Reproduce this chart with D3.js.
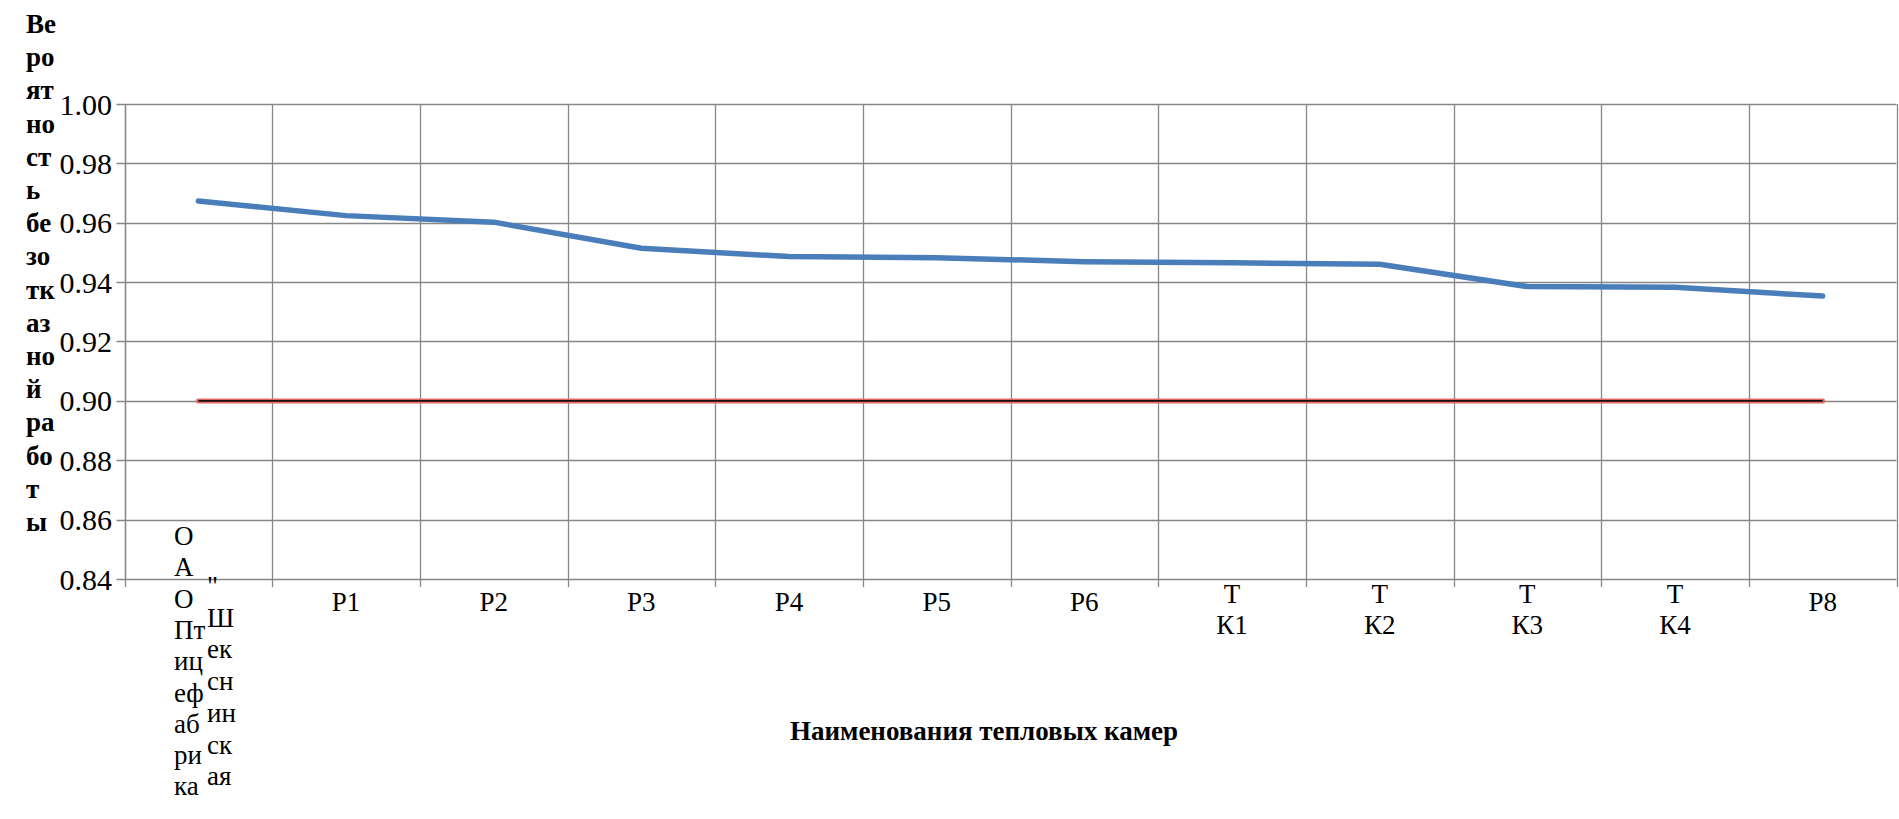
<!DOCTYPE html>
<html>
<head>
<meta charset="utf-8">
<script src="https://cdn.jsdelivr.net/npm/d3@7"></script>
<style>
  html, body { margin: 0; padding: 0; background: #fff; }
  svg { display: block; }
  svg text { font-family: "Times New Roman", Times, Tinos, "Liberation Serif", "DejaVu Serif", "Noto Serif", serif; }
</style>
</head>
<body>
<svg id="chart" width="1899" height="819"></svg>
<script>
// ---- data ----
const categories = ['ОАО "Птицефабрика "Шекснинская"', "Р1", "Р2", "Р3", "Р4", "Р5", "Р6", "ТК1", "ТК2", "ТК3", "ТК4", "Р8"];
const reliability = [0.9673, 0.9624, 0.9602, 0.9514, 0.9486, 0.9482, 0.9469, 0.9465, 0.9460, 0.9385, 0.9383, 0.9353];
const threshold = [0.90, 0.90, 0.90, 0.90, 0.90, 0.90, 0.90, 0.90, 0.90, 0.90, 0.90, 0.90];
const yTicks = [0.84, 0.86, 0.88, 0.90, 0.92, 0.94, 0.96, 0.98, 1.00];
// how the labels wrap in the picture
const firstLabelLeft = ["О", "А", "О", "Пт", "иц", "еф", "аб", "ри", "ка"];
const firstLabelRight = ['"', "Ш", "ек", "сн", "ин", "ск", "ая"];
const labelLines = [null, ["Р1"], ["Р2"], ["Р3"], ["Р4"], ["Р5"], ["Р6"], ["Т", "К1"], ["Т", "К2"], ["Т", "К3"], ["Т", "К4"], ["Р8"]];
const yTitleLines = ["Ве", "ро", "ят", "но", "ст", "ь", "бе", "зо", "тк", "аз", "но", "й", "ра", "бо", "т", "ы"];
const xTitle = "Наименования тепловых камер";

// ---- layout ----
const L = 124.5, R = 1896.5, T = 104, B = 579;
const svg = d3.select("#chart");
const grid = "#878787";

const x = d3.scaleBand().domain(categories).range([L, R]).padding(0);
const y = d3.scaleLinear().domain([0.84, 1.00]).range([B, T]);
const cx = d => x(d) + x.bandwidth() / 2;

// horizontal gridlines + y ticks
svg.append("g").selectAll("line").data(yTicks).join("line")
  .attr("x1", L - 8).attr("x2", R)
  .attr("y1", d => Math.round(y(d)) + 0.5).attr("y2", d => Math.round(y(d)) + 0.5)
  .attr("stroke", grid).attr("stroke-width", 1.3);

// vertical gridlines at category boundaries (with ticks below axis)
const bounds = categories.map(c => x(c)).concat([R]);
svg.append("g").selectAll("line").data(bounds).join("line")
  .attr("x1", d => Math.round(d) + 0.5).attr("x2", d => Math.round(d) + 0.5)
  .attr("y1", T).attr("y2", (d, i) => i === 0 ? B : B + 8)
  .attr("stroke", grid).attr("stroke-width", 1.3);
svg.append("line").attr("x1", Math.round(L) + 0.5).attr("x2", Math.round(L) + 0.5)
  .attr("y1", T).attr("y2", B + 8).attr("stroke", grid).attr("stroke-width", 1.3);

// y tick labels
svg.append("g").selectAll("text").data(yTicks).join("text")
  .attr("x", 112).attr("y", d => y(d)).attr("dy", "0.35em")
  .attr("text-anchor", "end").attr("font-size", 30)
  .text(d => d3.format(".2f")(d));

// x tick labels
const xl = svg.append("g").attr("font-size", 27);
categories.forEach((c, i) => {
  if (i === 0) {
    const x0 = 174, x1 = 207;
    firstLabelLeft.forEach((s, k) => xl.append("text").attr("x", x0).attr("y", 545 + k * 31.3).text(s));
    firstLabelRight.forEach((s, k) => xl.append("text").attr("x", x1).attr("y", 595 + k * 31.7).text(s));
  } else {
    const lines = labelLines[i];
    if (lines.length === 1) {
      xl.append("text").attr("x", cx(c)).attr("y", 611).attr("text-anchor", "middle").text(lines[0]);
    } else {
      lines.forEach((s, k) => xl.append("text").attr("x", cx(c)).attr("y", 603 + k * 31)
        .attr("text-anchor", "middle").text(s));
    }
  }
});

// threshold line (red with dark core)
const lineGen = d3.line().x((d, i) => cx(categories[i])).y(d => y(d));
svg.append("path").datum(threshold).attr("d", lineGen)
  .attr("fill", "none").attr("stroke", "#e06a6a").attr("stroke-width", 5).attr("stroke-linecap", "round");
svg.append("path").datum(threshold).attr("d", lineGen)
  .attr("fill", "none").attr("stroke", "#1a1010").attr("stroke-width", 1.8);

// reliability line
svg.append("path").datum(reliability).attr("d", lineGen)
  .attr("fill", "none").attr("stroke", "#4a7ebb").attr("stroke-width", 5.5)
  .attr("stroke-linecap", "round").attr("stroke-linejoin", "round");

// y title (wrapped)
svg.append("g").attr("font-size", 27).attr("font-weight", "bold").selectAll("text")
  .data(yTitleLines).join("text")
  .attr("x", 26).attr("y", (d, i) => 33 + i * 33.2).text(d => d);

// x title
svg.append("text").attr("x", 984).attr("y", 740).attr("text-anchor", "middle")
  .attr("font-size", 27).attr("font-weight", "bold").text(xTitle);
</script>
</body>
</html>
